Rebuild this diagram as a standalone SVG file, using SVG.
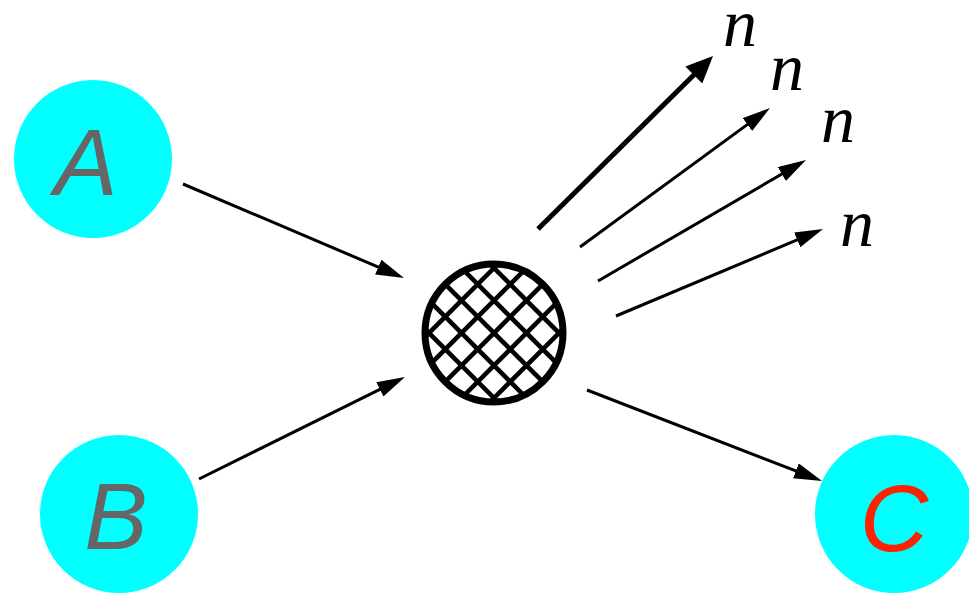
<svg xmlns="http://www.w3.org/2000/svg" width="969" height="594" viewBox="0 0 969 594">
<style>
.node{fill:#00ffff}
.lbl{font-family:"Liberation Sans",Arial,sans-serif;font-style:italic;font-size:95px;text-anchor:middle}
.n{font-family:"Liberation Serif","Times New Roman",serif;font-style:italic;font-size:68px}
.c{stroke:#000;fill:none;stroke-width:3}
.thick{stroke:#000;fill:none;stroke-width:5}
.hatch{stroke:#000;stroke-width:4.5}
</style>
<defs>
<marker id="ah" viewBox="0 0 28 16" markerWidth="28" markerHeight="16" refX="18" refY="8" markerUnits="userSpaceOnUse" orient="auto">
<path d="M0,0 L28,8 L0,16 z" fill="#000"/>
</marker>
<marker id="ahb" viewBox="0 0 27 24" markerWidth="27" markerHeight="24" refX="17" refY="12" markerUnits="userSpaceOnUse" orient="auto">
<path d="M0,0 L27,12 L0,24 z" fill="#000"/>
</marker>
<clipPath id="hubclip"><circle cx="494" cy="333" r="70"/></clipPath>
</defs>
<g id="A"><circle class="node" cx="93" cy="159" r="79"/><text class="lbl" x="86" y="195" fill="#666">A</text></g>
<g id="B"><circle class="node" cx="119" cy="514" r="79"/><text class="lbl" x="116" y="549" fill="#666">B</text></g>
<g id="C"><circle class="node" cx="894" cy="514" r="79"/><text class="lbl" x="894" y="551" fill="#ff2200">C</text></g>
<g id="hub">
<g clip-path="url(#hubclip)" class="hatch">
<line x1="329" y1="400.5" x2="561.5" y2="168"/>
<line x1="329" y1="433" x2="594" y2="168"/>
<line x1="329" y1="465.5" x2="626.5" y2="168"/>
<line x1="329" y1="498" x2="659" y2="168"/>
<line x1="329" y1="530.5" x2="691.5" y2="168"/>
<line x1="329" y1="563" x2="724" y2="168"/>
<line x1="329" y1="595.5" x2="756.5" y2="168"/>
<line x1="329" y1="265.5" x2="659" y2="595.5"/>
<line x1="329" y1="233" x2="659" y2="563"/>
<line x1="329" y1="200.5" x2="659" y2="530.5"/>
<line x1="329" y1="168" x2="659" y2="498"/>
<line x1="329" y1="135.5" x2="659" y2="465.5"/>
<line x1="329" y1="103" x2="659" y2="433"/>
<line x1="329" y1="70.5" x2="659" y2="400.5"/>
</g>
<circle cx="494" cy="333" r="69" fill="none" stroke="#000" stroke-width="7"/>
</g>
<g id="connectors">
<line class="c" x1="183" y1="184" x2="394.8" y2="274.1" marker-end="url(#ah)"/>
<line class="c" x1="199" y1="479" x2="396.0" y2="381.4" marker-end="url(#ah)"/>
<line class="c" x1="587" y1="390" x2="812.7" y2="477.4" marker-end="url(#ah)"/>
<line class="thick" x1="538" y1="229" x2="705.9" y2="63.0" marker-end="url(#ahb)"/>
<line class="c" x1="580" y1="247" x2="761.9" y2="113.9" marker-end="url(#ah)"/>
<line class="c" x1="598" y1="281" x2="797.4" y2="165.0" marker-end="url(#ah)"/>
<line class="c" x1="616" y1="316" x2="813.8" y2="232.9" marker-end="url(#ah)"/>
</g>
<g id="labels">
<text class="n" x="723" y="46">n</text>
<text class="n" x="770" y="90">n</text>
<text class="n" x="821" y="142">n</text>
<text class="n" x="840" y="246">n</text>
</g>
</svg>
